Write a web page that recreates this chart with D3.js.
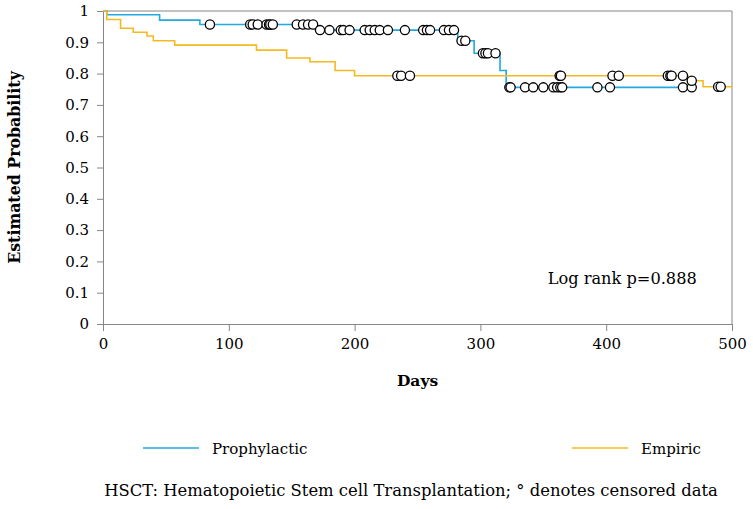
<!DOCTYPE html>
<html>
<head>
<meta charset="utf-8">
<script src="https://cdn.jsdelivr.net/npm/d3@7"></script>
<style>
  body { margin: 0; background: #ffffff; }
  text { font-family: "DejaVu Serif", "Liberation Serif", serif; fill: #000; }
</style>
</head>
<body>
<div id="chart"></div>
<script>
// Kaplan-Meier steps: [day, estimated probability]
const prophylacticSteps = [
  [0, 1], [3, 0.988], [45, 0.971], [77, 0.957], [170, 0.939],
  [282, 0.905], [295, 0.865], [315.6, 0.81], [320.5, 0.756]
];
const prophylacticEnd = 468;
const prophylacticCensored = [
  85, 117, 119, 123, 130, 132, 133, 135, 154, 159, 163, 167,
  172.5, 180, 189, 191, 196, 208, 212, 216, 220, 226.5, 240, 254.5, 257.5, 260,
  271, 275, 279, 285, 288, 302, 304, 306, 312,
  323, 324, 335.5, 342, 350, 358, 361, 363.5, 365, 393, 403, 461, 468
];

const empiricSteps = [
  [0, 1], [3, 0.973], [14, 0.945], [24, 0.932], [35, 0.92], [40, 0.905],
  [57, 0.891], [122, 0.875], [146, 0.85], [164.5, 0.838], [184.5, 0.81],
  [200, 0.793], [465, 0.777], [477, 0.758]
];
const empiricEnd = 510;
const empiricCensored = [234, 237, 244, 363, 364, 405, 410, 449, 451, 452, 461, 468, 489, 491];

const xTicks = [0, 100, 200, 300, 400, 500];
const yTicks = [0, 0.1, 0.2, 0.3, 0.4, 0.5, 0.6, 0.7, 0.8, 0.9, 1];

const series = [
  { name: 'Prophylactic', steps: prophylacticSteps, end: prophylacticEnd, censored: prophylacticCensored, color: '#22a9e1' },
  { name: 'Empiric', steps: empiricSteps, end: empiricEnd, censored: empiricCensored, color: '#f3ba22' }
];

const W = 753, H = 509;
const margin = { top: 11, right: 21, bottom: 185, left: 103 };
const width = W - margin.left - margin.right;
const height = H - margin.top - margin.bottom;

const svg = d3.select('#chart').append('svg')
  .attr('width', W)
  .attr('height', H);

const g = svg.append('g')
  .attr('transform', `translate(${margin.left},${margin.top})`);

const x = d3.scaleLinear().domain([0, 500]).range([0, width]);
const y = d3.scaleLinear().domain([0, 1]).range([height, 0]);

const axisColor = '#868686';

// frame: top and right border
g.append('line')
  .attr('x1', 0).attr('x2', width).attr('y1', 0).attr('y2', 0)
  .attr('stroke', axisColor);
g.append('line')
  .attr('x1', width).attr('x2', width).attr('y1', 0).attr('y2', height)
  .attr('stroke', axisColor);

// axes
const xAxis = g.append('g')
  .attr('transform', `translate(0,${height})`)
  .call(d3.axisBottom(x).tickValues(xTicks).tickSize(7).tickPadding(7).tickFormat(d3.format('d')));

const yAxis = g.append('g')
  .call(d3.axisLeft(y).tickValues(yTicks).tickSize(6).tickPadding(8).tickFormat(d => d3.format('~g')(d)));

[xAxis, yAxis].forEach(a => {
  a.select('.domain').attr('stroke', axisColor);
  a.selectAll('.tick line').attr('stroke', axisColor);
  a.selectAll('.tick text')
    .attr('font-family', '"DejaVu Serif", serif')
    .attr('font-size', '15px')
    .attr('fill', '#000');
});

// step function value at a day
function survAt(steps, day) {
  let v = steps[0][1];
  steps.forEach(s => { if (s[0] <= day) v = s[1]; });
  return v;
}

const plot = g.append('g');
const clip = svg.append('clipPath').attr('id', 'plotclip');
clip.append('rect').attr('x', -2).attr('y', -2).attr('width', width + 2).attr('height', height + 4);
plot.attr('clip-path', 'url(#plotclip)');

const line = d3.line()
  .x(d => x(d[0]))
  .y(d => y(d[1]))
  .curve(d3.curveStepAfter);

series.forEach(s => {
  const pts = s.steps.concat([[s.end, s.steps[s.steps.length - 1][1]]]);
  plot.append('path')
    .datum(pts)
    .attr('fill', 'none')
    .attr('stroke', s.color)
    .attr('stroke-width', 1.6)
    .attr('d', line);
});

// censored marks
series.forEach(s => {
  g.append('g').selectAll('circle')
    .data(s.censored)
    .join('circle')
    .attr('cx', d => x(d))
    .attr('cy', d => y(survAt(s.steps, d)))
    .attr('r', 4.6)
    .attr('fill', '#fff')
    .attr('stroke', '#000')
    .attr('stroke-width', 1.3);
});

// annotation
g.append('text')
  .attr('x', x(353.5))
  .attr('y', y(0.128))
  .attr('font-size', '16.2px')
  .text('Log rank p=0.888');

// axis titles
svg.append('text')
  .attr('x', margin.left + width / 2)
  .attr('y', 386)
  .attr('text-anchor', 'middle')
  .attr('font-size', '15.5px')
  .attr('font-weight', 'bold')
  .text('Days');

svg.append('text')
  .attr('transform', `translate(20,${margin.top + height / 2}) rotate(-90)`)
  .attr('text-anchor', 'middle')
  .attr('font-size', '15.8px')
  .attr('font-weight', 'bold')
  .text('Estimated Probability');

// legend
const legendPos = [{ x1: 143, x2: 199, tx: 212 }, { x1: 572, x2: 628, tx: 641 }];
series.forEach((s, i) => {
  const p = legendPos[i];
  svg.append('line')
    .attr('x1', p.x1).attr('x2', p.x2).attr('y1', 448).attr('y2', 448)
    .attr('stroke', s.color).attr('stroke-width', 1.6);
  svg.append('text')
    .attr('x', p.tx).attr('y', 454)
    .attr('font-size', '15px')
    .text(s.name);
});

// footnote
svg.append('text')
  .attr('x', 411)
  .attr('y', 496)
  .attr('text-anchor', 'middle')
  .attr('font-size', '16.4px')
  .text('HSCT: Hematopoietic Stem cell Transplantation; \u00b0 denotes censored data');
</script>
</body>
</html>
